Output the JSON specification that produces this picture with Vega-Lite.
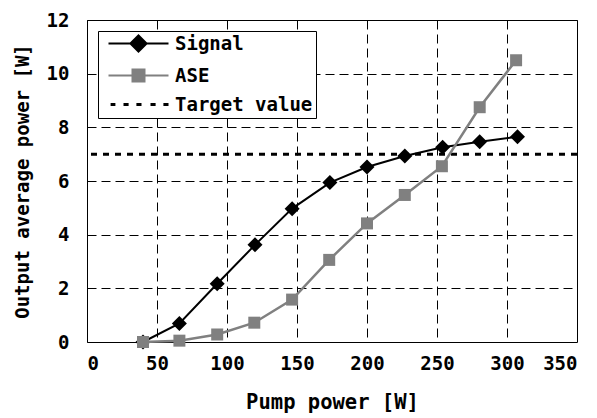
{
  "$schema": "https://vega.github.io/schema/vega-lite/v6.json",
  "width": 490,
  "height": 322,
  "autosize": {"type": "none"},
  "padding": {"left": 87, "top": 20, "right": 20, "bottom": 76},
  "background": "white",
  "config": {
    "font": "DejaVu Sans Mono",
    "view": {"stroke": "black", "strokeWidth": 1},
    "axis": {
      "labelFont": "DejaVu Sans Mono",
      "labelFontWeight": "bold",
      "labelFontSize": 19,
      "labelColor": "black",
      "titleFont": "DejaVu Sans Mono",
      "titleFontWeight": "bold",
      "titleFontSize": 19,
      "titleColor": "black",
      "ticks": false,
      "domain": false,
      "grid": true,
      "gridColor": "black",
      "gridDash": [9, 5],
      "gridWidth": 1,
      "gridOpacity": 1
    }
  },
  "data": {
    "values": [
      {"series": "Signal", "x": 40, "y": 0},
      {"series": "Signal", "x": 66, "y": 0.69},
      {"series": "Signal", "x": 93, "y": 2.17},
      {"series": "Signal", "x": 120, "y": 3.62},
      {"series": "Signal", "x": 146.5, "y": 4.97},
      {"series": "Signal", "x": 173.5, "y": 5.94},
      {"series": "Signal", "x": 200, "y": 6.52},
      {"series": "Signal", "x": 227, "y": 6.93},
      {"series": "Signal", "x": 254, "y": 7.26},
      {"series": "Signal", "x": 280.5, "y": 7.46},
      {"series": "Signal", "x": 307.5, "y": 7.65},
      {"series": "ASE", "x": 40, "y": 0},
      {"series": "ASE", "x": 66, "y": 0.05},
      {"series": "ASE", "x": 93, "y": 0.28},
      {"series": "ASE", "x": 119.5, "y": 0.72},
      {"series": "ASE", "x": 146.5, "y": 1.58},
      {"series": "ASE", "x": 173, "y": 3.06},
      {"series": "ASE", "x": 200, "y": 4.42},
      {"series": "ASE", "x": 227, "y": 5.48},
      {"series": "ASE", "x": 253.5, "y": 6.55},
      {"series": "ASE", "x": 280.5, "y": 8.75},
      {"series": "ASE", "x": 306.5, "y": 10.5},
      {"series": "Target value", "y": 7}
    ]
  },
  "encoding": {
    "color": {
      "field": "series",
      "type": "nominal",
      "scale": {"domain": ["Signal", "ASE", "Target value"], "range": ["black", "#808080", "black"]},
      "legend": {
        "title": null,
        "orient": "top-left",
        "offset": 11,
        "strokeColor": "black",
        "fillColor": "white",
        "padding": 3,
        "labelFont": "DejaVu Sans Mono",
        "labelFontWeight": "bold",
        "labelFontSize": 19,
        "labelColor": "black",
        "symbolSize": 400,
        "symbolOffset": 28,
        "labelOffset": 27,
        "rowPadding": 9,
        "encode": {
          "symbols": {
            "update": {
              "shape": {"signal": "datum.value === 'Signal' ? 'M-1,0H1M-0.27,0L0,-0.27L0.27,0L0,0.27Z' : datum.value === 'ASE' ? 'M-1,0H1M-0.2,-0.2H0.2V0.2H-0.2Z' : 'M-0.93,0H-0.77M-0.5,0H-0.33M-0.07,0H0.1M0.4,0H0.57M0.83,0H1'"},
              "size": {"value": 3600},
              "fill": {"signal": "datum.value === 'ASE' ? '#808080' : 'black'"},
              "stroke": {"signal": "datum.value === 'ASE' ? '#808080' : 'black'"},
              "strokeWidth": {"signal": "datum.value === 'Target value' ? 3 : 2"},
              "opacity": {"value": 1},
              "fillOpacity": {"value": 1},
              "strokeOpacity": {"value": 1}
            }
          }
        }
      }
    }
  },
  "layer": [
    {
      "transform": [{"filter": "datum.series === 'Target value'"}],
      "mark": {"type": "rule", "strokeWidth": 3, "strokeDash": [6, 6]},
      "encoding": {
        "y": {"field": "y", "type": "quantitative", "scale": {"domain": [0, 12]}}
      }
    },
    {
      "transform": [{"filter": "datum.series === 'Signal'"}],
      "mark": {"type": "line", "strokeWidth": 2},
      "encoding": {
        "x": {"field": "x", "type": "quantitative", "scale": {"domain": [0, 350]}, "axis": {"values": [0, 50, 100, 150, 200, 250, 300, 350], "title": "Pump power [W]", "labelPadding": 12, "titlePadding": 19, "titleFontSize": 20.5}},
        "y": {"field": "y", "type": "quantitative", "scale": {"domain": [0, 12]}, "axis": {"values": [0, 2, 4, 6, 8, 10, 12], "title": "Output average power [W]", "labelPadding": 18, "titlePadding": 14}}
      }
    },
    {
      "transform": [{"filter": "datum.series === 'Signal'"}],
      "mark": {"type": "point", "shape": "diamond", "filled": true, "size": 225, "opacity": 1},
      "encoding": {
        "x": {"field": "x", "type": "quantitative"},
        "y": {"field": "y", "type": "quantitative"}
      }
    },
    {
      "transform": [{"filter": "datum.series === 'ASE'"}],
      "mark": {"type": "line", "strokeWidth": 2.5},
      "encoding": {
        "x": {"field": "x", "type": "quantitative"},
        "y": {"field": "y", "type": "quantitative"}
      }
    },
    {
      "transform": [{"filter": "datum.series === 'ASE'"}],
      "mark": {"type": "point", "shape": "square", "filled": true, "size": 144, "opacity": 1},
      "encoding": {
        "x": {"field": "x", "type": "quantitative"},
        "y": {"field": "y", "type": "quantitative"}
      }
    }
  ]
}
